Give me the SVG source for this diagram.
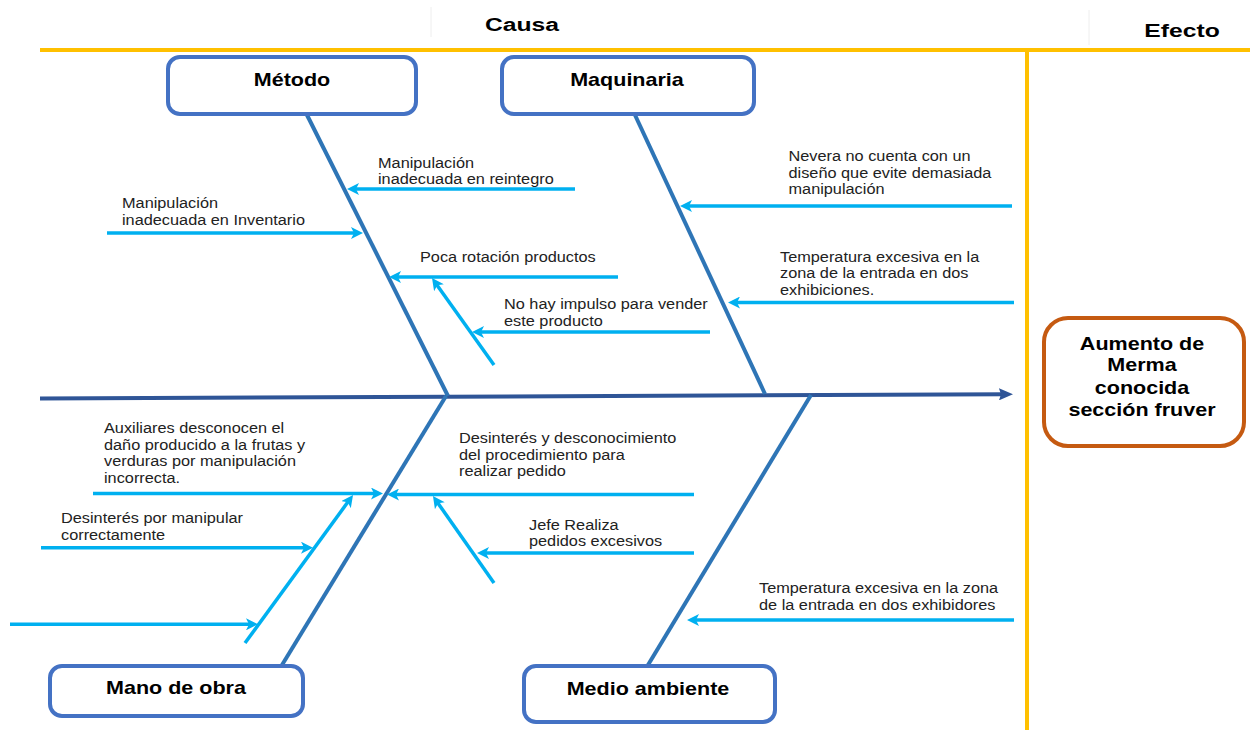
<svg xmlns="http://www.w3.org/2000/svg" width="1250" height="730" viewBox="0 0 1250 730">
<style>
.bg{fill:#ffffff}
.frame{stroke:#FFC000;stroke-width:4;fill:none}
.faint{stroke:#eeeeee;stroke-width:1}
.cat{fill:#ffffff;stroke:#4472C4;stroke-width:4}
.eff{fill:#ffffff;stroke:#C55A11;stroke-width:4}
.spine{stroke:#2F5597;stroke-width:4;fill:none}
.bone{stroke:#2E75B6;stroke-width:4;fill:none}
.sub{stroke:#00B0F0;stroke-width:3.5;fill:none}
.lbl{font-family:"Liberation Sans",Arial,sans-serif;font-weight:bold;font-size:18.5px;fill:#000;text-anchor:middle}
.hdr{font-family:"Liberation Sans",Arial,sans-serif;font-weight:bold;font-size:19px;fill:#000;text-anchor:middle}
.txt{font-family:"Liberation Sans",Arial,sans-serif;font-size:14px;fill:#222}
</style>
<defs>
<marker id="ah" viewBox="0 0 12 12" refX="6" refY="6" markerWidth="12" markerHeight="12" markerUnits="userSpaceOnUse" orient="auto">
<path d="M0,0 L12,6 L0,12 L3,6 z" fill="#00B0F0"/>
</marker>
<marker id="sh" viewBox="0 0 14 12" refX="7" refY="6" markerWidth="14" markerHeight="12" markerUnits="userSpaceOnUse" orient="auto">
<path d="M0,0 L14,6 L0,12 L2,6 z" fill="#2F5597"/>
</marker>
</defs>
<rect class="bg" x="0" y="0" width="1250" height="730"/>

<g id="frame">
<line class="faint" x1="431" y1="7" x2="431" y2="37"/>
<line class="faint" x1="1089" y1="10" x2="1089" y2="45"/>
<line class="frame" x1="40" y1="50" x2="1250" y2="50"/>
<line class="frame" x1="1027" y1="50" x2="1027" y2="730"/>
<text class="hdr" transform="translate(522 31) scale(1.3 1)">Causa</text>
<text class="hdr" transform="translate(1182 37) scale(1.3 1)">Efecto</text>
</g>

<g id="connectors">
<line class="spine" x1="40" y1="398.5" x2="1006" y2="394.3" marker-end="url(#sh)"/>
<line class="bone" x1="307" y1="115" x2="448" y2="396"/>
<line class="bone" x1="635" y1="115" x2="765" y2="394"/>
<line class="bone" x1="446" y1="396" x2="282" y2="665"/>
<line class="bone" x1="811" y1="395" x2="648" y2="665"/>

<line class="sub" x1="575" y1="189" x2="353" y2="189" marker-end="url(#ah)"/>
<line class="sub" x1="107" y1="233" x2="357" y2="233" marker-end="url(#ah)"/>
<line class="sub" x1="618" y1="277" x2="395" y2="277" marker-end="url(#ah)"/>
<line class="sub" x1="494" y1="365" x2="435.5" y2="282.9" marker-end="url(#ah)"/>
<line class="sub" x1="710" y1="332" x2="478" y2="332" marker-end="url(#ah)"/>
<line class="sub" x1="1012" y1="206" x2="686" y2="206" marker-end="url(#ah)"/>
<line class="sub" x1="1014" y1="302.5" x2="734" y2="302.5" marker-end="url(#ah)"/>

<line class="sub" x1="93" y1="493.5" x2="377" y2="493.5" marker-end="url(#ah)"/>
<line class="sub" x1="694" y1="494.5" x2="393" y2="494.5" marker-end="url(#ah)"/>
<line class="sub" x1="494" y1="583" x2="436.4" y2="500.9" marker-end="url(#ah)"/>
<line class="sub" x1="694" y1="553" x2="483" y2="553" marker-end="url(#ah)"/>
<line class="sub" x1="245" y1="643" x2="349.5" y2="499.8" marker-end="url(#ah)"/>
<line class="sub" x1="41" y1="547.7" x2="307" y2="547.7" marker-end="url(#ah)"/>
<line class="sub" x1="10" y1="624.3" x2="252" y2="624.3" marker-end="url(#ah)"/>
<line class="sub" x1="1014" y1="620" x2="693" y2="620" marker-end="url(#ah)"/>
</g>

<g id="metodo">
<rect class="cat" x="168" y="57" width="248" height="57" rx="12"/>
<text class="lbl" transform="translate(292 86) scale(1.164 1)">Método</text>
</g>
<g id="maquinaria">
<rect class="cat" x="502" y="57" width="252" height="57" rx="12"/>
<text class="lbl" transform="translate(627 86) scale(1.164 1)">Maquinaria</text>
</g>
<g id="mano-de-obra">
<rect class="cat" x="50" y="666" width="253" height="50" rx="12"/>
<text class="lbl" transform="translate(176 693.5) scale(1.164 1)">Mano de obra</text>
</g>
<g id="medio-ambiente">
<rect class="cat" x="524" y="666" width="251" height="56" rx="12"/>
<text class="lbl" transform="translate(648 694.5) scale(1.164 1)">Medio ambiente</text>
</g>
<g id="efecto">
<rect class="eff" x="1044" y="318" width="200" height="128" rx="24"/>
<text class="lbl" transform="translate(1142 349.5) scale(1.164 1)"><tspan x="0" y="0">Aumento de</tspan><tspan x="0" y="22">Merma</tspan><tspan x="0" y="44.5">conocida</tspan><tspan x="0" y="67">sección fruver</tspan></text>
</g>

<g id="causas">
<text class="txt" transform="translate(378 167.5) scale(1.164 1)"><tspan x="0" y="0">Manipulación</tspan><tspan x="0" y="16.7">inadecuada en reintegro</tspan></text>
<text class="txt" transform="translate(122 208) scale(1.164 1)"><tspan x="0" y="0">Manipulación</tspan><tspan x="0" y="16.7">inadecuada en Inventario</tspan></text>
<text class="txt" transform="translate(420 261.5) scale(1.164 1)">Poca rotación productos</text>
<text class="txt" transform="translate(504 309) scale(1.164 1)"><tspan x="0" y="0">No hay impulso para vender</tspan><tspan x="0" y="16.7">este producto</tspan></text>
<text class="txt" transform="translate(788.5 161) scale(1.164 1)"><tspan x="0" y="0">Nevera no cuenta con un</tspan><tspan x="0" y="16.7">diseño que evite demasiada</tspan><tspan x="0" y="33.4">manipulación</tspan></text>
<text class="txt" transform="translate(780 261.5) scale(1.164 1)"><tspan x="0" y="0">Temperatura excesiva en la</tspan><tspan x="0" y="16.7">zona de la entrada en dos</tspan><tspan x="0" y="33.4">exhibiciones.</tspan></text>
<text class="txt" transform="translate(104 433) scale(1.164 1)"><tspan x="0" y="0">Auxiliares desconocen el</tspan><tspan x="0" y="16.7">daño producido a la frutas y</tspan><tspan x="0" y="33.4">verduras por manipulación</tspan><tspan x="0" y="50.1">incorrecta.</tspan></text>
<text class="txt" transform="translate(459 443) scale(1.164 1)"><tspan x="0" y="0">Desinterés y desconocimiento</tspan><tspan x="0" y="16.7">del procedimiento para</tspan><tspan x="0" y="33.4">realizar pedido</tspan></text>
<text class="txt" transform="translate(61 523) scale(1.164 1)"><tspan x="0" y="0">Desinterés por manipular</tspan><tspan x="0" y="16.7">correctamente</tspan></text>
<text class="txt" transform="translate(529 529.5) scale(1.164 1)"><tspan x="0" y="0">Jefe Realiza</tspan><tspan x="0" y="16.7">pedidos excesivos</tspan></text>
<text class="txt" transform="translate(759 593) scale(1.164 1)"><tspan x="0" y="0">Temperatura excesiva en la zona</tspan><tspan x="0" y="16.7">de la entrada en dos exhibidores</tspan></text>
</g>
</svg>
